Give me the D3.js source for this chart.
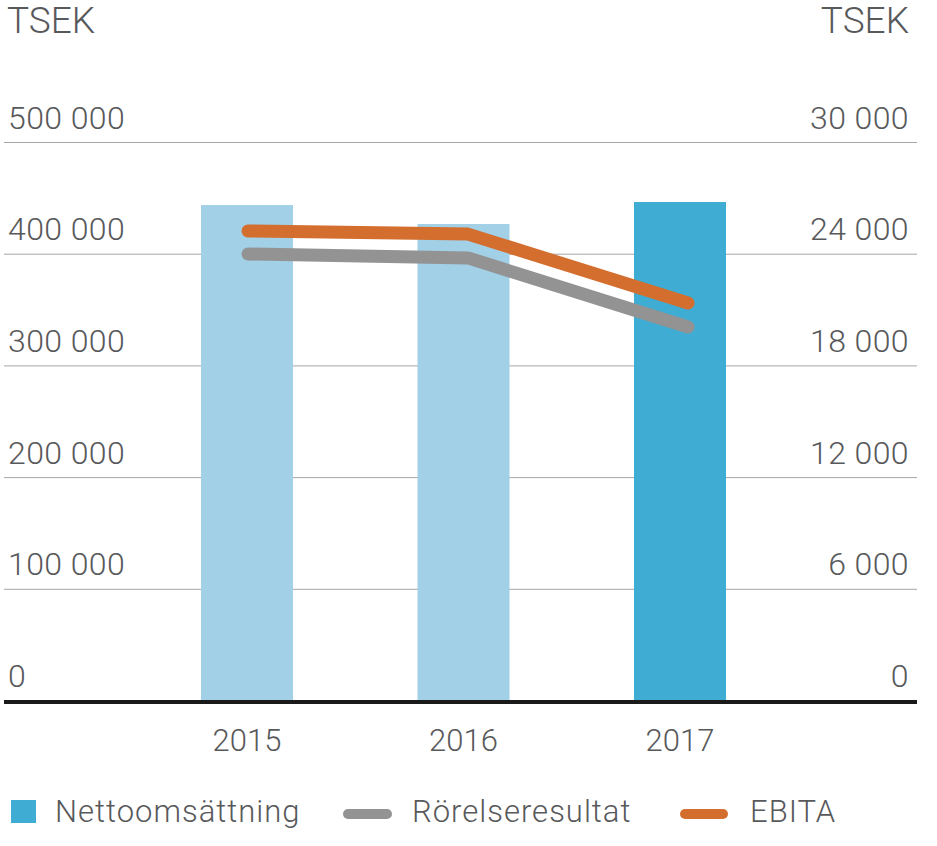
<!DOCTYPE html>
<html>
<head>
<meta charset="utf-8">
<script src="https://cdn.jsdelivr.net/npm/d3@7/dist/d3.min.js"></script>
<style>
  html, body { margin: 0; padding: 0; background: #fff; }
  svg text { font-family: Roboto, "Noto Sans", sans-serif; font-weight: 300; fill: #58595b; }
</style>
</head>
<body>
<svg id="chart" width="937" height="846"></svg>
<script>
const years = ["2015", "2016", "2017"];
const nettoomsattning = [444000, 427000, 446700];
const rorelseresultat = [24010, 23800, 20090];
const ebita = [25250, 25080, 21380];
const leftTicks = [0, 100000, 200000, 300000, 400000, 500000];
const rightTicks = [0, 6000, 12000, 18000, 24000, 30000];
const unitLabel = "TSEK";
const legendLabels = ["Nettoomsättning", "Rörelseresultat", "EBITA"];

const colors = {
  barLight: "#a2d0e7",
  barDark: "#3eacd3",
  gray: "#939393",
  orange: "#d46e2e",
  grid: "#a6a6a6",
  text: "#58595b"
};

const svg = d3.select("#chart");
const fmt = v => d3.format(",")(v).replace(/,/g, " ");

const x = d3.scaleBand().domain(years).range([138.75, 788.25]).paddingInner(0.575).paddingOuter(0.2875);
const xLine = d3.scalePoint().domain(years).range([248, 688]);
const yL = d3.scaleLinear().domain([0, 500000]).range([701, 142.5]);
const yR = d3.scaleLinear().domain([0, 30000]).range([701, 142.5]);

// gridlines
svg.append("g").selectAll("line").data(leftTicks.filter(d => d > 0)).join("line")
  .attr("x1", 4).attr("x2", 917)
  .attr("y1", d => yL(d)).attr("y2", d => yL(d))
  .attr("stroke", colors.grid).attr("stroke-width", 1);

// left tick labels
svg.append("g").selectAll("text").data(leftTicks).join("text")
  .attr("x", 8).attr("y", d => yL(d) - 14)
  .attr("font-size", 32).attr("letter-spacing", 0.4)
  .text(d => fmt(d));

// right tick labels
svg.append("g").selectAll("text").data(rightTicks).join("text")
  .attr("x", 909).attr("y", d => yR(d) - 14)
  .attr("text-anchor", "end")
  .attr("font-size", 32).attr("letter-spacing", 0.4)
  .text(d => fmt(d));

// unit labels
svg.append("text").attr("x", 7).attr("y", 33).attr("font-size", 37).text(unitLabel);
svg.append("text").attr("x", 909).attr("y", 33).attr("font-size", 37).attr("text-anchor", "end").text(unitLabel);

// bars
svg.append("g").selectAll("rect").data(years).join("rect")
  .attr("x", d => x(d)).attr("width", x.bandwidth())
  .attr("y", (d, i) => yL(nettoomsattning[i]))
  .attr("height", (d, i) => yL(0) - yL(nettoomsattning[i]))
  .attr("fill", (d, i) => i === years.length - 1 ? colors.barDark : colors.barLight);

// baseline
svg.append("line").attr("x1", 4).attr("x2", 917)
  .attr("y1", yL(0) + 1).attr("y2", yL(0) + 1)
  .attr("stroke", "#1a1a1a").attr("stroke-width", 4);

// lines
const lineR = d3.line().x((d, i) => xLine(years[i])).y(d => yR(d));
svg.append("path").datum(rorelseresultat).attr("d", lineR)
  .attr("fill", "none").attr("stroke", colors.gray).attr("stroke-width", 13)
  .attr("stroke-linecap", "round").attr("stroke-linejoin", "round");
svg.append("path").datum(ebita).attr("d", lineR)
  .attr("fill", "none").attr("stroke", colors.orange).attr("stroke-width", 13)
  .attr("stroke-linecap", "round").attr("stroke-linejoin", "round");

// x labels
svg.append("g").selectAll("text").data(years).join("text")
  .attr("x", d => x(d) + x.bandwidth() / 2).attr("y", 751)
  .attr("text-anchor", "middle").attr("font-size", 31)
  .text(d => d);

// legend
const lg = svg.append("g");
lg.append("rect").attr("x", 11).attr("y", 800).attr("width", 25).attr("height", 23).attr("fill", colors.barDark);
lg.append("text").attr("x", 55).attr("y", 822).attr("font-size", 31).attr("letter-spacing", 1).text(legendLabels[0]);
lg.append("line").attr("x1", 348).attr("x2", 387).attr("y1", 814).attr("y2", 814)
  .attr("stroke", colors.gray).attr("stroke-width", 10).attr("stroke-linecap", "round");
lg.append("text").attr("x", 412).attr("y", 822).attr("font-size", 31).attr("letter-spacing", 1).text(legendLabels[1]);
lg.append("line").attr("x1", 685).attr("x2", 723).attr("y1", 814).attr("y2", 814)
  .attr("stroke", colors.orange).attr("stroke-width", 10).attr("stroke-linecap", "round");
lg.append("text").attr("x", 750).attr("y", 822).attr("font-size", 31).attr("letter-spacing", 1).text(legendLabels[2]);
</script>
</body>
</html>
